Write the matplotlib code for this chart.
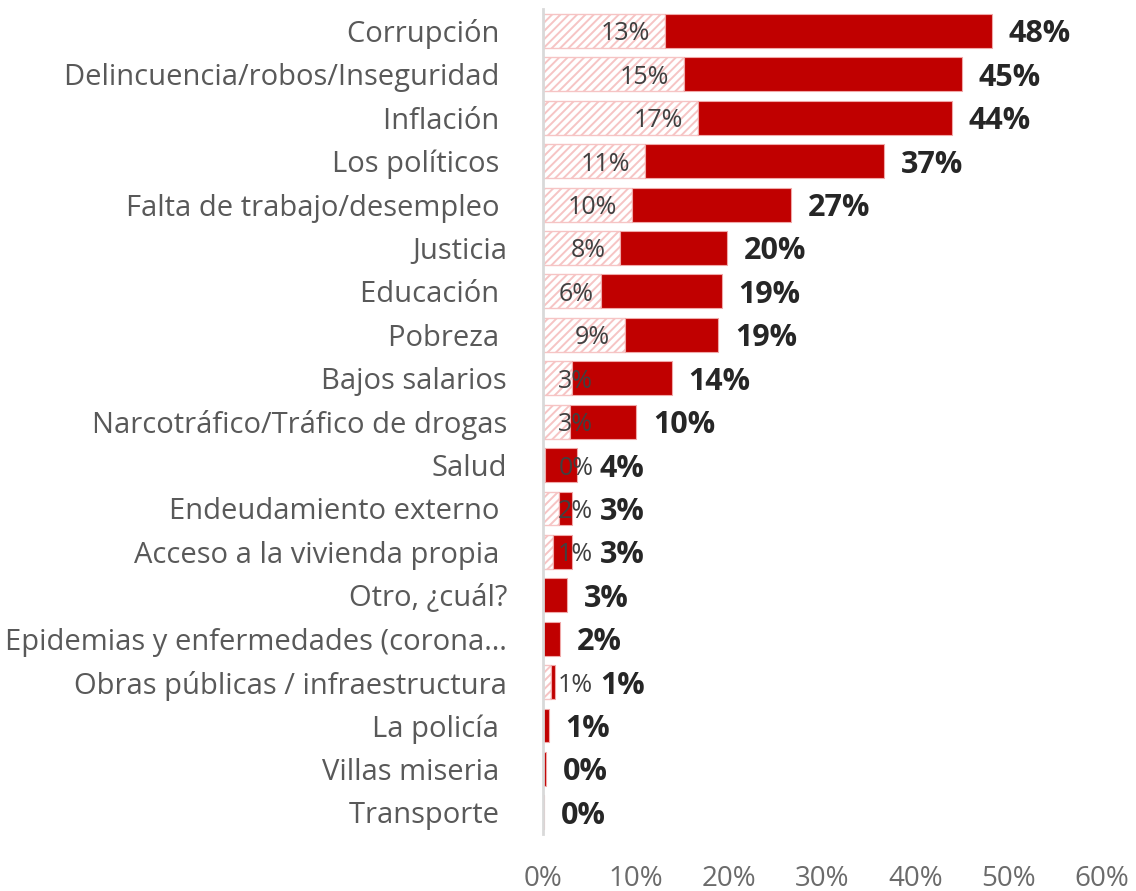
import matplotlib
matplotlib.use('Agg')
import matplotlib.pyplot as plt
import numpy as np

plt.rcParams['font.family'] = ['Open Sans', 'DejaVu Sans']
plt.rcParams['hatch.linewidth'] = 1.4

categories = [
    "Corrupción ", "Delincuencia/robos/Inseguridad ", "Inflación ", "Los políticos ",
    "Falta de trabajo/desempleo ", "Justicia", "Educación ", "Pobreza ",
    "Bajos salarios", "Narcotráfico/Tráfico de drogas", "Salud",
    "Endeudamiento externo ", "Acceso a la vivienda propia ", "Otro, ¿cuál?",
    "Epidemias y enfermedades (corona…", "Obras públicas / infraestructura",
    "La policía ", "Villas miseria ", "Transporte ",
]
# total mentions (%)
total = [48.2, 45.0, 43.9, 36.6, 26.6, 19.8, 19.2, 18.8, 13.8, 10.0, 3.7,
         3.1, 3.1, 2.6, 1.8, 1.3, 0.6, 0.3, 0.1]
# first mention (%)
first = [13.1, 15.1, 16.6, 11.0, 9.6, 8.3, 6.2, 8.8, 3.1, 2.9, 0.2,
         1.7, 1.1, 0.0, 0.0, 0.9, 0.0, 0.0, 0.0]
xticks = [0, 10, 20, 30, 40, 50, 60]

total = np.array(total)
first = np.array(first)
rest = total - first
y = np.arange(len(categories))

fig = plt.figure(figsize=(11.36, 8.91), dpi=100)
ax = fig.add_axes([0.478, 0.064, 0.492, 0.9256])

ax.barh(y, first, height=0.78, color='white', edgecolor='#f6c4c4',
        hatch='////', linewidth=1.0)
ax.barh(y, rest, left=first, height=0.78, color='#c00000',
        edgecolor='#f0a8a8', linewidth=0.8)

for i in range(len(categories)):
    xt = total[i] + 1.8
    if first[i] > 0:
        xr = max(first[i] - 1.6, 5.4)
        ax.text(xr, y[i], f"{first[i]:.0f}%", ha='right', va='center_baseline',
                fontsize=18, color='#404040')
        # keep the total clear of the first-mention label on short bars
        xt = max(xt, xr + 0.7)
    ax.text(xt, y[i], f"{total[i]:.0f}%", ha='left', va='center_baseline',
            fontsize=22, fontweight='bold', color='#262626')

ax.set_xlim(0, 60)
ax.set_ylim(len(categories) - 0.5, -0.5)
ax.set_yticks(y)
ax.set_yticklabels(categories, fontsize=21, color='#595959')
ax.set_xticks(xticks)
ax.set_xticklabels([f"{t}%" for t in xticks], fontsize=20, color='#6b6b6b')
ax.tick_params(axis='both', length=0)
ax.tick_params(axis='x', pad=22)
ax.tick_params(axis='y', pad=26)

for s in ['top', 'right', 'bottom']:
    ax.spines[s].set_visible(False)
ax.spines['left'].set_color('#d9d9d9')
ax.spines['left'].set_linewidth(2)

fig.savefig('out.png', dpi=100)
